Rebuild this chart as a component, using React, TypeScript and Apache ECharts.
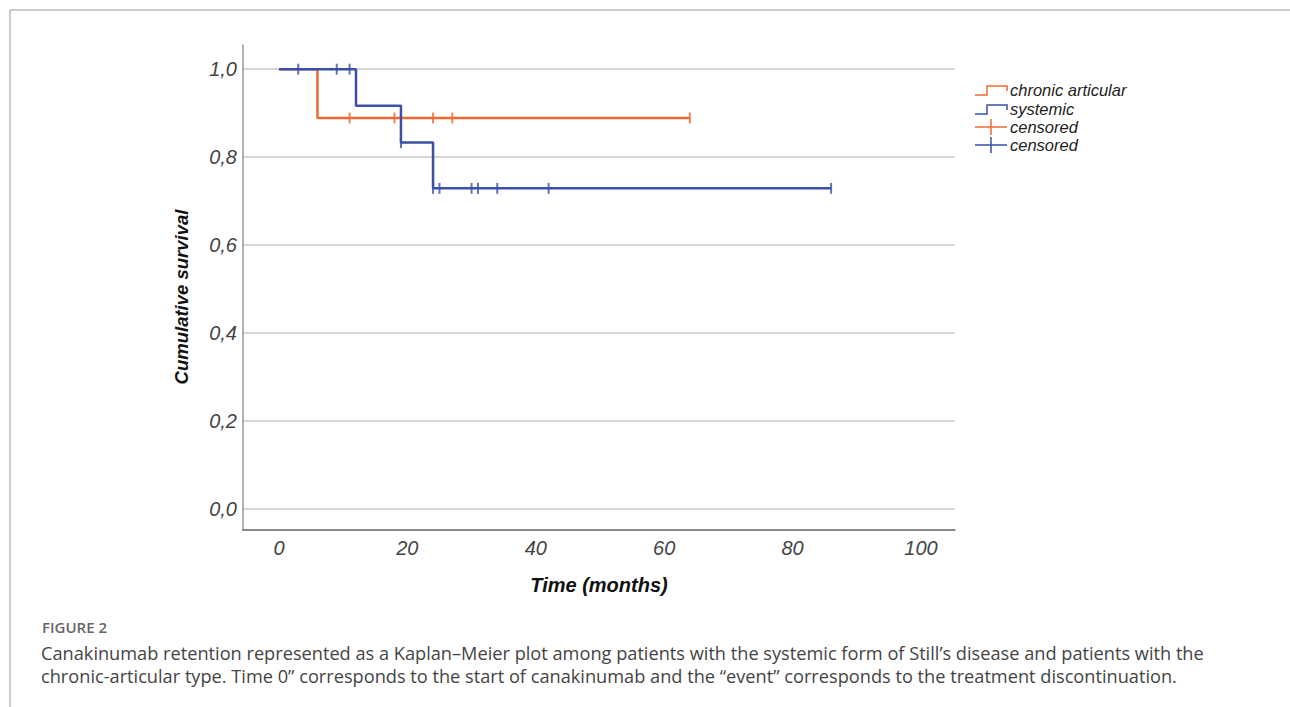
import React, { useEffect, useRef } from "react";
import * as echarts from "echarts";

// Kaplan–Meier steps (time in months, cumulative survival)
const chronicTimes = [0, 6, 64];
const chronicSurvival = [1, 0.889, 0.889];
const systemicTimes = [0, 12, 19, 24, 86];
const systemicSurvival = [1, 0.917, 0.833, 0.729, 0.729];

// Censored observations
const chronicCensorTimes = [11, 18, 24, 27, 64];
const chronicCensorSurvival = [0.889, 0.889, 0.889, 0.889, 0.889];
const systemicCensorTimes = [3, 9, 11, 19, 24, 25, 30, 31, 34, 42, 86];
const systemicCensorSurvival = [1, 1, 1, 0.833, 0.729, 0.729, 0.729, 0.729, 0.729, 0.729, 0.729];

const xTicks = [0, 20, 40, 60, 80, 100];
const yTicks = [0, 0.2, 0.4, 0.6, 0.8, 1.0];

const legendItems = ["chronic articular", "systemic", "censored", "censored"];

const ORANGE = "#EE6A32";
const BLUE = "#3A50A8";
const FONT = "Arial, Liberation Sans, sans-serif";
const CAPFONT = "Open Sans, sans-serif";

const zip = (a: number[], b: number[]) => a.map((v, i) => [v, b[i]]);

export default function App() {
  const ref = useRef<HTMLDivElement>(null);
  useEffect(() => {
    document.body.style.margin = "0";
    const chart = echarts.init(ref.current!, null, { renderer: "svg" });
    const lx = 975;
    const ly = [90, 109, 127, 145];
    const legendColors = [ORANGE, BLUE, ORANGE, BLUE];
    const legendGraphics: any[] = [];
    legendItems.forEach((name, i) => {
      const y = ly[i];
      const c = legendColors[i];
      if (i < 2) {
        legendGraphics.push({
          type: "polyline",
          shape: { points: [[lx, y + 5], [lx + 12, y + 5], [lx + 12, y - 4], [lx + 32, y - 4], [lx + 32, y + 1]] },
          style: { stroke: c, lineWidth: 1.5, fill: null },
        });
      } else {
        legendGraphics.push({
          type: "line",
          shape: { x1: lx, y1: y, x2: lx + 32, y2: y },
          style: { stroke: c, lineWidth: 1.5 },
        });
        legendGraphics.push({
          type: "line",
          shape: { x1: lx + 16, y1: y - 8, x2: lx + 16, y2: y + 8 },
          style: { stroke: c, lineWidth: 1.5 },
        });
      }
      legendGraphics.push({
        type: "text",
        x: lx + 35,
        y,
        style: {
          text: name,
          fontFamily: FONT,
          fontStyle: "italic",
          fontSize: 16.5,
          fill: "#222",
          verticalAlign: "middle",
        },
      });
    });

    chart.setOption({
      animation: false,
      backgroundColor: "#fff",
      grid: { left: 243, top: 45, right: 335, bottom: 177, containLabel: false },
      xAxis: {
        type: "value",
        min: -5.6,
        max: 105.3,
        name: "Time (months)",
        nameLocation: "middle",
        nameGap: 45,
        nameTextStyle: { fontFamily: FONT, fontStyle: "italic", fontWeight: "bold", fontSize: 20, color: "#111" },
        axisLine: { show: true, onZero: false, lineStyle: { color: "#666", width: 1.5 } },
        axisTick: { show: false, customValues: xTicks },
        splitLine: { show: false },
        axisLabel: {
          customValues: xTicks,
          fontFamily: FONT,
          fontStyle: "italic",
          fontSize: 20,
          color: "#444",
          margin: 8,
        },
      },
      yAxis: {
        type: "value",
        min: -0.048,
        max: 1.055,
        axisLine: { show: true, onZero: false, lineStyle: { color: "#999", width: 1.5 } },
        axisTick: { show: false, customValues: yTicks },
        splitLine: { show: true, lineStyle: { color: "#c8c8c8", width: 1.5 } },
        axisLabel: {
          customValues: yTicks,
          formatter: (v: number) => v.toFixed(1).replace(".", ","),
          fontFamily: FONT,
          fontStyle: "italic",
          fontSize: 20,
          color: "#444",
          margin: 6,
        },
      },
      graphic: [
        { type: "line", shape: { x1: 10, y1: 10, x2: 1290, y2: 10 }, style: { stroke: "#bbb", lineWidth: 1.5 } },
        { type: "line", shape: { x1: 10, y1: 10, x2: 10, y2: 707 }, style: { stroke: "#bbb", lineWidth: 1.5 } },
        ...legendGraphics,
        {
          type: "text",
          x: 181,
          y: 297,
          rotation: Math.PI / 2,
          style: {
            text: "Cumulative survival",
            fontFamily: FONT,
            fontStyle: "italic",
            fontWeight: "bold",
            fontSize: 18.5,
            fill: "#111",
            align: "center",
            verticalAlign: "middle",
          },
        },
        {
          type: "text",
          x: 42,
          y: 627,
          style: { text: "FIGURE 2", fontFamily: CAPFONT, fontWeight: 600, fontSize: 15, fill: "#666", verticalAlign: "middle" },
        },
        {
          type: "text",
          x: 41,
          y: 653,
          style: {
            text: "Canakinumab retention represented as a Kaplan–Meier plot among patients with the systemic form of Still’s disease and patients with the",
            fontFamily: CAPFONT,
            fontSize: 18.2,
            fill: "#444",
            verticalAlign: "middle",
          },
        },
        {
          type: "text",
          x: 41,
          y: 676,
          style: {
            text: "chronic-articular type. Time 0” corresponds to the start of canakinumab and the “event” corresponds to the treatment discontinuation.",
            fontFamily: CAPFONT,
            fontSize: 18.2,
            fill: "#444",
            verticalAlign: "middle",
          },
        },
      ],
      series: [
        {
          type: "line",
          name: "chronic articular",
          step: "end",
          data: zip(chronicTimes, chronicSurvival),
          showSymbol: false,
          lineStyle: { color: ORANGE, width: 2.5 },
          z: 2,
        },
        {
          type: "line",
          name: "systemic",
          step: "end",
          data: zip(systemicTimes, systemicSurvival),
          showSymbol: false,
          lineStyle: { color: BLUE, width: 2.5 },
          z: 3,
        },
        {
          type: "scatter",
          name: "censored",
          data: zip(chronicCensorTimes, chronicCensorSurvival),
          symbol: "rect",
          symbolSize: [2, 11],
          itemStyle: { color: ORANGE },
          z: 4,
        },
        {
          type: "scatter",
          name: "censored",
          data: zip(systemicCensorTimes, systemicCensorSurvival),
          symbol: "rect",
          symbolSize: [2, 11],
          itemStyle: { color: BLUE },
          z: 5,
        },
      ],
    });
    return () => chart.dispose();
  }, []);
  return <div ref={ref} style={{ position: "fixed", left: 0, top: 0, width: 1290, height: 707 }} />;
}
